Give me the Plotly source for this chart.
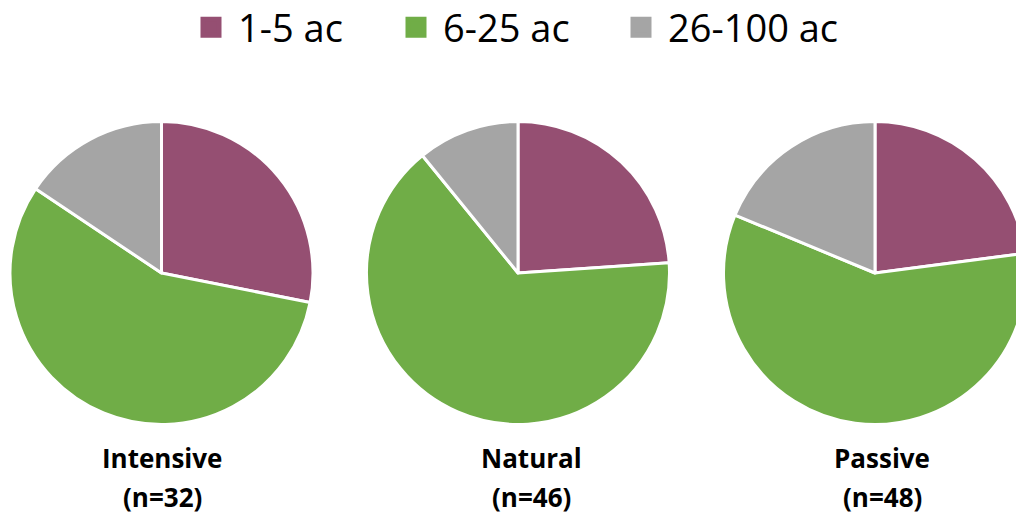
import plotly.graph_objects as go

# Farm-size breakdown per management type
size_classes = ["1-5 ac", "6-25 ac", "26-100 ac"]
size_colors = ["#954F72", "#70AD47", "#A5A5A5"]

groups = ["Intensive", "Natural", "Passive"]
intensive_counts = [9, 18, 5]
natural_counts = [11, 30, 5]
passive_counts = [11, 28, 9]
group_counts = [intensive_counts, natural_counts, passive_counts]

FIG_W, FIG_H = 1040, 520
FONT = "Open Sans"

# pie centres (px) and radius
centers_x = [161.5, 518.0, 875.0]
center_y = 273.0
radius = 151.5
label_x = [162, 531, 882]

fig = go.Figure()

for name, counts, cx in zip(groups, group_counts, centers_x):
    fig.add_trace(go.Pie(
        labels=size_classes,
        values=counts,
        name=name,
        sort=False,
        direction="clockwise",
        rotation=0,
        textinfo="none",
        hoverinfo="label+value+percent",
        marker=dict(colors=size_colors, line=dict(color="white", width=3)),
        showlegend=False,
        domain=dict(
            x=[(cx - radius) / FIG_W, (cx + radius) / FIG_W],
            y=[(FIG_H - center_y - radius) / FIG_H, (FIG_H - center_y + radius) / FIG_H],
        ),
    ))

# legend entries: one legend per size class so each sits at its own spot
legend_left = [184, 389, 614]
for i, (lab, col) in enumerate(zip(size_classes, size_colors)):
    key = "legend" if i == 0 else f"legend{i + 1}"
    fig.add_trace(go.Scatter(
        x=[None], y=[None], mode="markers", name=lab,
        marker=dict(symbol="square", size=16, color=col, line=dict(color=col, width=5)),
        legend=key, showlegend=True, hoverinfo="skip",
    ))

legend_style = dict(
    orientation="h", xanchor="left", yanchor="top", y=1.0 + 4 / FIG_H,
    itemwidth=44,
    font=dict(family=FONT, size=38, color="#000000"),
    bgcolor="rgba(0,0,0,0)", borderwidth=0,
)
fig.update_layout(
    legend=dict(x=legend_left[0] / FIG_W, **legend_style),
    legend2=dict(x=legend_left[1] / FIG_W, **legend_style),
    legend3=dict(x=legend_left[2] / FIG_W, **legend_style),
)

# group labels under each pie
for name, counts, lx in zip(groups, group_counts, label_x):
    n = sum(counts)
    fig.add_annotation(x=lx / FIG_W, y=(FIG_H - 458) / FIG_H, xref="paper", yref="paper",
                       text=f"<b>{name}</b>", showarrow=False, xanchor="center", yanchor="middle",
                       font=dict(family=FONT, size=26, color="#000000"))
    fig.add_annotation(x=lx / FIG_W, y=(FIG_H - 497) / FIG_H, xref="paper", yref="paper",
                       text=f"<b>(n={n})</b>", showarrow=False, xanchor="center", yanchor="middle",
                       font=dict(family=FONT, size=26, color="#000000"))

fig.update_layout(
    width=FIG_W, height=FIG_H,
    margin=dict(l=0, r=0, t=0, b=0, autoexpand=False),
    paper_bgcolor="white", plot_bgcolor="white",
    xaxis=dict(visible=False), yaxis=dict(visible=False),
    font=dict(family=FONT),
)

fig.write_html(
    "out.html",
    config={"displayModeBar": False},
    post_script="document.body.style.margin='0';document.body.style.overflow='hidden';"
                "document.documentElement.style.overflow='hidden';",
)
